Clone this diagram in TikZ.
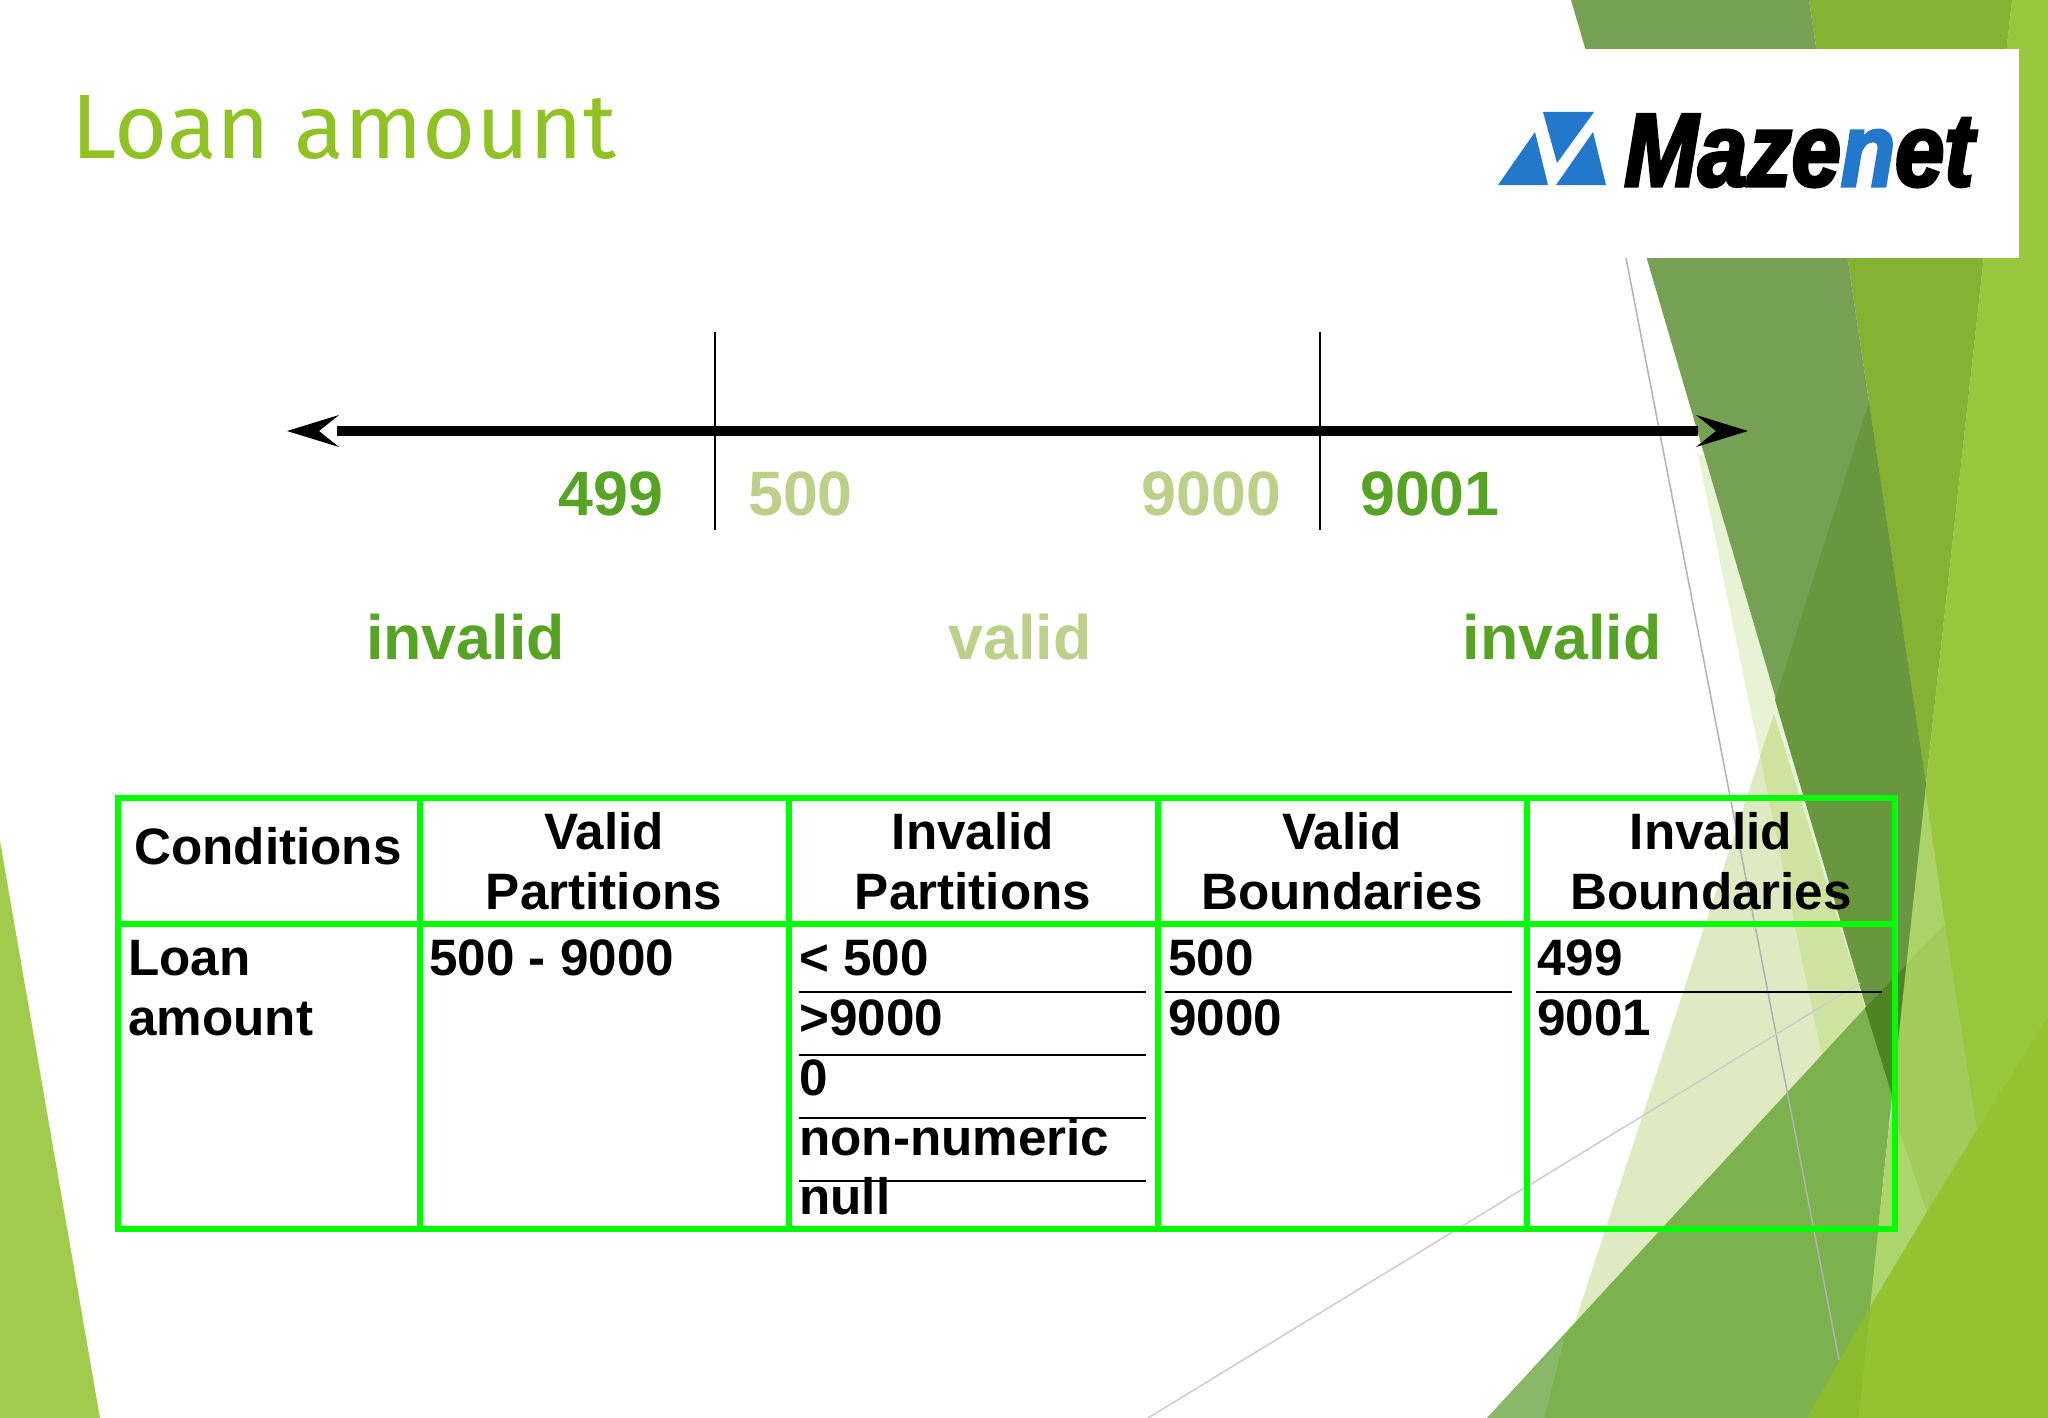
\documentclass[tikz,border=0pt]{standalone}
\usepackage{fontspec}
\setmainfont{Liberation Sans}
\newfontfamily\titlefont{Fira Sans}
\newfontfamily\logofont[FakeStretch=.852,FakeBold=3]{Liberation Sans}
\definecolor{facetleft}{HTML}{A1CB4C}
\definecolor{facetdark}{HTML}{76A054}
\definecolor{facetdeep}{HTML}{68973F}
\definecolor{facetmid}{HTML}{84B333}
\definecolor{facetlight}{HTML}{98C63C}
\definecolor{facetbright}{HTML}{95C230}
\definecolor{facetolive}{HTML}{8DBB2E}
\definecolor{facetband}{HTML}{A3CB5C}
\definecolor{facetcap}{HTML}{ACD26A}
\definecolor{facetpale}{HTML}{ACD56E}
\definecolor{facetwash}{HTML}{E8F2D4}
\definecolor{facetcream}{HTML}{E0EAC2}
\definecolor{facetmix}{HTML}{CFE3A0}
\definecolor{facetgreen}{HTML}{7BB24E}
\definecolor{facetfade}{HTML}{88B968}
\definecolor{facetnight}{HTML}{4F8422}
\definecolor{titlegreen}{HTML}{90C226}
\definecolor{gooddark}{HTML}{56A325}
\definecolor{goodlight}{HTML}{BDD08A}
\definecolor{logoblue}{HTML}{2478CC}
\definecolor{gridgreen}{HTML}{00FF00}
\tikzset{
  bignum/.style={anchor=base,inner sep=0pt,font=\bfseries\fontsize{62.7}{70}\selectfont},
  headcell/.style={anchor=base,inner sep=0pt,align=center,font=\bfseries\fontsize{51.2}{60}\selectfont},
  bodycell/.style={anchor=base west,inner sep=0pt,align=left,font=\bfseries\fontsize{51.2}{60}\selectfont},
  gridline/.style={draw=gridgreen,line width=6pt},
  rowline/.style={draw=black,line width=2.2pt},
  tickline/.style={draw=black,line width=2pt}
}
\begin{document}
\begin{tikzpicture}[x=1pt,y=-1pt]
  \useasboundingbox (0,0) rectangle (2048,1418);
  \fill[white] (0,0) rectangle (2048,1418);
  \fill[facetleft] (0,841) -- (100,1418) -- (0,1418) -- cycle;
  \fill[facetlight] (2012,0) -- (2048,0) -- (2048,1418) -- (1856,1418) -- (1868,1309) -- (1895,1100) -- (1926,784) -- cycle;
  \fill[facetcap] (1925,788) -- (1945,925) -- (1905,965) -- cycle;
  \fill[facetband] (1905,965) -- (1945,925) -- (1977,1130) -- (1927,1212) -- (1898,1127) -- (1893,1095) -- cycle;
  \fill[facetpale] (1892,1100) -- (1898,1127) -- (1927,1212) -- (1870,1307) -- cycle;
  \fill[facetbright] (1807,1418) -- (1870,1307) -- (1927,1212) -- (1977,1130) -- (2048,1017) -- (2048,1418) -- cycle;
  \fill[facetmid] (1809,0) -- (2012,0) -- (1926,784) -- cycle;
  \fill[facetwash] (1698,455) -- (1800,455) -- (1894,1100) -- (1856,1309) -- (1822,1057) -- cycle;
  \fill[facetcream] (1774,714) -- (1894,1100) -- (1575,1322) -- cycle;
  \fill[facetmix] (1774,714) -- (1894,1100) -- (1822,1057) -- (1760,756) -- cycle;
  \fill[facetdark] (1571,0) -- (1809,0) -- (1926,784) -- (1892,1095) -- cycle;
  \fill[facetdeep] (1869,402) -- (1926,784) -- (1892,1095) -- (1775,700) -- cycle;
  \fill[facetgreen] (1487,1418) -- (1865,1008) -- (1906,965) -- (1892,1097) -- (1870,1307) -- (1858,1418) -- cycle;
  \fill[facetfade] (1487,1418) -- (1565,1336) -- (1544,1418) -- cycle;
  \fill[facetnight] (1865,1008) -- (1906,965) -- (1892,1095) -- cycle;
  \fill[facetolive] (1807,1418) -- (1870,1307) -- (1858,1418) -- cycle;
  \draw[black!30,line width=1.5pt] (1626,258) -- (1839,1360);
  \draw[black!20,line width=1.5pt] (1148,1418) -- (1860,983);
  \fill[white] (1585,49) rectangle (2019,258);

  \node[anchor=base west,inner sep=0pt,text=titlegreen,font=\titlefont\fontsize{91.5}{100}\selectfont] (title) at (71,158) {Loan amount};

  \fill[logoblue] (1498,185) -- (1535,132) -- (1548,185) -- cycle;
  \fill[logoblue] (1543,112) -- (1594,112) -- (1557,163) -- cycle;
  \fill[logoblue] (1556,185) -- (1593,132) -- (1606,185) -- cycle;
  \node[anchor=base west,inner sep=0pt,font=\logofont\bfseries\itshape\fontsize{104}{110}\selectfont] (logo) at (1624,186) {Maze\textcolor{logoblue}{n}et};

  \coordinate (leftend) at (337,431);
  \coordinate (rightend) at (1698,431);
  \coordinate (tickAtop) at (715,332);
  \coordinate (tickAbot) at (715,530);
  \coordinate (tickBtop) at (1319.5,332);
  \coordinate (tickBbot) at (1319.5,530);
  \draw[line width=10.7pt] (leftend) -- (rightend);
  \fill (leftend) ++(-50,0) -- ++(52,-16) -- ++(-20,16) -- ++(20,16) -- cycle;
  \fill (rightend) ++(50,0) -- ++(-52,-16) -- ++(20,16) -- ++(-20,16) -- cycle;
  \draw[tickline] (tickAtop) -- (tickAbot);
  \draw[tickline] (tickBtop) -- (tickBbot);

  \node[bignum,text=gooddark] (numA) at (611,515) {499};
  \node[bignum,text=goodlight] (numB) at (800.5,515) {500};
  \node[bignum,text=goodlight] (numC) at (1211.5,515) {9000};
  \node[bignum,text=gooddark] (numD) at (1430,515) {9001};
  \node[bignum,text=gooddark] (zoneA) at (465.5,659) {invalid};
  \node[bignum,text=goodlight] (zoneB) at (1020,659) {valid};
  \node[bignum,text=gooddark] (zoneC) at (1562,659) {invalid};

  \coordinate (gridNW) at (118,797.5);
  \coordinate (gridSE) at (1895,1229);
  \coordinate (rowW) at (118,923.5);
  \coordinate (rowE) at (1895,923.5);
  \coordinate (colAt) at (419.6,797.5);
  \coordinate (colAb) at (419.6,1229);
  \coordinate (colBt) at (789,797.5);
  \coordinate (colBb) at (789,1229);
  \coordinate (colCt) at (1157.6,797.5);
  \coordinate (colCb) at (1157.6,1229);
  \coordinate (colDt) at (1527,797.5);
  \coordinate (colDb) at (1527,1229);
  \draw[gridline] (gridNW) rectangle (gridSE);
  \draw[gridline] (rowW) -- (rowE);
  \draw[gridline] (colAt) -- (colAb);
  \draw[gridline] (colBt) -- (colBb);
  \draw[gridline] (colCt) -- (colCb);
  \draw[gridline] (colDt) -- (colDb);

  \coordinate (ruleAw) at (799,992);
  \coordinate (ruleAe) at (1145.5,992);
  \coordinate (ruleBw) at (799,1055);
  \coordinate (ruleBe) at (1145.5,1055);
  \coordinate (ruleCw) at (799,1118);
  \coordinate (ruleCe) at (1145.5,1118);
  \coordinate (ruleDw) at (799,1181);
  \coordinate (ruleDe) at (1145.5,1181);
  \coordinate (ruleEw) at (1165,992);
  \coordinate (ruleEe) at (1512,992);
  \coordinate (ruleFw) at (1536,992);
  \coordinate (ruleFe) at (1882,992);
  \draw[rowline] (ruleAw) -- (ruleAe);
  \draw[rowline] (ruleBw) -- (ruleBe);
  \draw[rowline] (ruleCw) -- (ruleCe);
  \draw[rowline] (ruleDw) -- (ruleDe);
  \draw[rowline] (ruleEw) -- (ruleEe);
  \draw[rowline] (ruleFw) -- (ruleFe);

  \node[headcell] (headA) at (268,864) {Conditions};
  \node[headcell] (headB) at (604,909) {Valid\\Partitions};
  \node[headcell] (headC) at (973,909) {Invalid\\Partitions};
  \node[headcell] (headD) at (1342,909) {Valid\\Boundaries};
  \node[headcell] (headE) at (1711,909) {Invalid\\Boundaries};
  \node[bodycell] (bodyA) at (128,1035) {Loan\\amount};
  \node[bodycell] (bodyB) at (429,975) {500 - 9000};
  \node[bodycell] (bodyC) at (799,975) {< 500};
  \node[bodycell] (bodyD) at (799,1035) {>9000};
  \node[bodycell] (bodyE) at (799,1095) {0};
  \node[bodycell] (bodyF) at (799,1155) {non-numeric};
  \node[bodycell] (bodyG) at (799,1214.5) {null};
  \node[bodycell] (bodyH) at (1168,975) {500};
  \node[bodycell] (bodyI) at (1168,1035) {9000};
  \node[bodycell] (bodyJ) at (1537,975) {499};
  \node[bodycell] (bodyK) at (1537,1035) {9001};
\end{tikzpicture}
\end{document}
